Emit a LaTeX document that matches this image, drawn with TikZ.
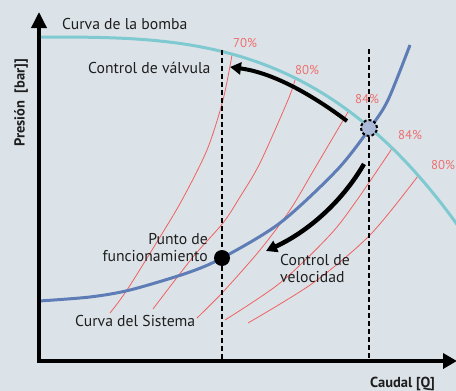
\documentclass[tikz,border=0pt]{standalone}
\usepackage{fontspec}
\setmainfont{PT Sans}
\usetikzlibrary{arrows.meta}
\definecolor{bgc}{RGB}{220,227,232}
\definecolor{pumpc}{RGB}{126,202,208}
\definecolor{sysc}{RGB}{94,124,182}
\definecolor{effc}{RGB}{240,96,96}
\definecolor{efftxt}{RGB}{238,110,110}
\definecolor{opc}{RGB}{170,186,216}
\definecolor{txtc}{RGB}{30,30,30}
\begin{document}
\begin{tikzpicture}[x=1pt,y=-1pt,
  axis/.style={line width=3.5pt,draw=black,{Triangle[length=16pt,width=15pt]}-{Triangle[length=14pt,width=15pt]}},
  pumpline/.style={draw=pumpc,line width=3pt},
  sysline/.style={draw=sysc,line width=3pt},
  effline/.style={draw=effc,line width=0.8pt},
  vline/.style={draw=black,line width=2pt,dash pattern=on 5pt off 3pt},
  ctrlarrow/.style={draw=black,line width=4.5pt,-{Triangle[length=11pt,width=12pt]}},
  lbl/.style={text=txtc,font=\fontsize{15.7}{17}\selectfont,inner sep=0pt},
  pct/.style={text=efftxt,font=\fontsize{12.8}{14}\selectfont,inner sep=0pt},
  axlbl/.style={text=txtc,font=\bfseries\fontsize{14.5}{16}\selectfont,inner sep=0pt}]
\fill[bgc] (0,0) rectangle (456,391);
\useasboundingbox (0,0) rectangle (456,391);
% efficiency curves
\draw[effline] plot[smooth] coordinates {(110,313) (127,290) (160,237) (182,200) (207,150) (223,100) (232,55)};
\draw[effline] plot[smooth] coordinates {(153,309) (193,257) (223,223) (240,197) (260,163) (288,100) (295,80)};
\draw[effline] plot[smooth] coordinates {(197,318) (223,292) (260,250) (290,210) (315,168) (348,112)};
\draw[effline] plot[smooth] coordinates {(225,320) (280,283) (330,235) (357,200) (393,147)};
\draw[effline] plot[smooth] coordinates {(248,323) (313,283) (370,235) (418,176)};
% pump and system curves
\draw[pumpline] (39,37) -- plot[domain=40:458,samples=100] (\x,{37+16*pow((\x-39)/189,3.1)});
\draw[sysline] plot[smooth] coordinates {(39,301) (90,297) (130,290) (187,273) (222,258) (280,223) (337,170) (370,128) (388,100) (410,45)};
% axes
\coordinate (ytip) at (39,12);
\coordinate (corner) at (39,361);
\coordinate (xtip) at (457,361);
\draw[axis] (ytip) -- (corner) -- (xtip);
% dashed verticals
\coordinate (d1t) at (222,50);
\coordinate (d1b) at (222,361);
\coordinate (d2t) at (369,49);
\coordinate (d2b) at (369,361);
\draw[vline] (d1t) -- (d1b);
\draw[vline] (d2t) -- (d2b);
% control arrows
\coordinate (va) at (347,121);
\coordinate (vb) at (230,67);
\draw[ctrlarrow,line width=4pt] (va) .. controls (315,97) and (275,73) .. (vb);
\coordinate (sa) at (364,164);
\coordinate (sb) at (266,251);
\draw[ctrlarrow] (sa) .. controls (340,205) and (305,233) .. (sb);
% points
\node[circle,fill=opc,draw=black,line width=2pt,dash pattern=on 3pt off 2pt,minimum size=16pt,inner sep=0pt] (bep) at (369,128) {};
\node[circle,fill=black,minimum size=16pt,inner sep=0pt] (op) at (222,258) {};
% labels
\node[lbl,anchor=base west] (lpump) at (62,29) {Curva de la bomba};
\node[lbl,anchor=base west] (lvalve) at (88,73) {Control de válvula};
\node[lbl,anchor=east,align=right] (lop) at (208,248) {Punto de\\funcionamiento};
\node[lbl,anchor=base west] (lsys) at (75,326) {Curva del Sistema};
\node[lbl,anchor=west,align=left] (lspeed) at (280,269) {Control de\\velocidad};
\node[pct] (p1) at (245,43) {70\%};
\node[pct] (p2) at (307,70) {80\%};
\node[pct] (p3) at (367,99) {84\%};
\node[pct] (p4) at (410,135) {84\%};
\node[pct] (p5) at (443,165) {80\%};
\node[axlbl,rotate=90,anchor=center] (ylab) at (21,103) {Presión~~[bar]]};
\node[axlbl,anchor=base west] (xlab) at (370,387) {Caudal [Q]};
\end{tikzpicture}
\end{document}
